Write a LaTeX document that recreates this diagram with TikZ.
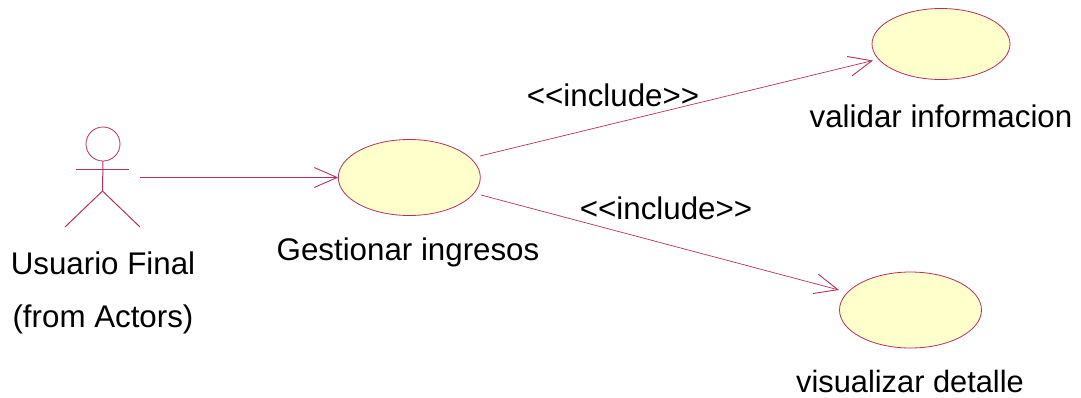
\documentclass[tikz,border=0pt]{standalone}
\usepackage{fontspec}
\setmainfont{Liberation Sans}
\usetikzlibrary{arrows.meta,shapes.geometric}
\definecolor{umlline}{HTML}{B5305F}
\definecolor{umlfill}{HTML}{FFFFCC}
\tikzset{
  usecase/.style={ellipse,draw=umlline,fill=umlfill,line width=0.8pt,inner sep=0pt,outer sep=0pt},
  assoc/.style={draw=umlline,line width=0.7pt,-{Straight Barb[length=23pt,width=20pt,line width=0.9pt]}},
  actorline/.style={draw=umlline,line width=1pt},
  label/.style={font=\fontsize{31.3}{36}\selectfont,text=black,inner sep=0pt}
}
\begin{document}
\begin{tikzpicture}[x=1pt,y=-1pt]
  \useasboundingbox (0,0) rectangle (1081,397);

  % Actor
  \node[circle,draw=umlline,line width=0.8pt,minimum size=34pt,inner sep=0pt,outer sep=0pt] (head) at (103,144) {};
  \coordinate (hip) at (102.5,191);
  \coordinate (armleft) at (76,169);
  \coordinate (armright) at (129,169);
  \coordinate (footleft) at (65,227);
  \coordinate (footright) at (140,227);
  \draw[actorline] (head.south) -- (hip);
  \draw[actorline] (armleft) -- (armright);
  \draw[actorline] (footleft) -- (hip) -- (footright);
  \node[label] (usuario) at (103,263) {Usuario Final};
  \node[label] (from) at (103,319) {(from Actors)};

  % Use cases
  \node[usecase,minimum width=142pt,minimum height=76pt] (gestionar) at (409.3,177.5) {};
  \node[usecase,minimum width=138pt,minimum height=71pt] (validar) at (941,44) {};
  \node[usecase,minimum width=142pt,minimum height=76pt] (visualizar) at (910.5,310) {};
  \node[label] (gestionartxt) at (408,252) {Gestionar ingresos};
  \node[label] (validartxt) at (941,116) {validar informacion};
  \node[label,font=\fontsize{30.8}{36}\selectfont] (visualizartxt) at (910,381) {visualizar detalle};

  % Connectors
  \coordinate (actorout) at (140,177.5);
  \coordinate (outtop) at (480,156);
  \coordinate (outbottom) at (481,195);
  \coordinate (intop) at (873,60.5);
  \coordinate (inbottom) at (839,290);
  \draw[assoc] (actorout) -- (gestionar.west);
  \draw[assoc] (outtop) -- (intop);
  \draw[assoc] (outbottom) -- (inbottom);
  \node[label] (includetop) at (613,95) {<{}<include>{}>};
  \node[label] (includebottom) at (666,208) {<{}<include>{}>};
\end{tikzpicture}
\end{document}
